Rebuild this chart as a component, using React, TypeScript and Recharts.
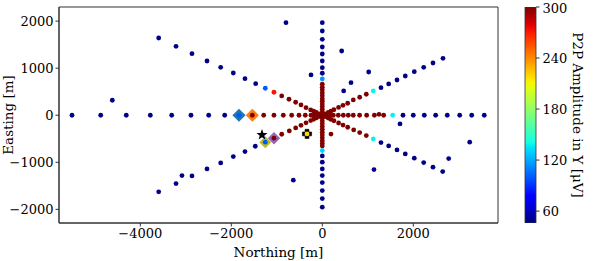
import React from 'react';
import { ScatterChart, Scatter, XAxis, YAxis, ReferenceArea, BarChart, Bar } from 'recharts';

// [northing, easting, P2P amplitude]
type Station = [number, number, number];

const westLine: Station[] = [
  [-5501, 0, 48], [-4870, 0, 48], [-4308, 0, 48], [-3780, 0, 48], [-3310, 0, 48],
  [-2886, 0, 48], [-2497, 0, 48], [-2145, 0, 48], [-1831, 0, 100], [-1538, 0, 300],
  [-1288, 0, 300], [-1062, 0, 300], [-857, 0, 300], [-673, 0, 300], [-512, 0, 300],
  [-374, 0, 300], [-248, 0, 300], [-180, 0, 300], [-120, 0, 300], [-60, 0, 300], [0, 0, 300],
];
const eastLine: Station[] = [
  [60, 0, 300], [120, 0, 300], [180, 0, 300], [242, 0, 300], [352, 0, 300], [462, 0, 300], [571, 0, 300],
  [681, 0, 300], [820, 0, 300], [975, 0, 300], [1145, 0, 300], [1246, 20, 300],
  [1349, 0, 300], [1547, 0, 138], [1774, 0, 48], [2000, 0, 48], [2242, 0, 48],
  [2492, 0, 48], [2747, 0, 48], [3020, 0, 48], [3284, 0, 48], [3560, 0, 48],
];
const northLine: Station[] = [
  [0, 35, 300], [0, 70, 300], [0, 127, 300], [0, 183, 300], [0, 240, 300], [0, 297, 300],
  [0, 352, 300], [0, 416, 300], [0, 473, 300], [0, 537, 300], [0, 594, 300],
  [0, 658, 300], [0, 771, 115], [0, 892, 48], [0, 1011, 48], [0, 1153, 48],
  [0, 1301, 48], [0, 1450, 48], [0, 1614, 48], [0, 1790, 48], [0, 1966, 48],
];
const southLine: Station[] = [
  [0, -30, 300], [0, -60, 300], [0, -120, 300], [0, -180, 300], [0, -240, 300], [0, -300, 300],
  [0, -360, 300], [0, -420, 300], [0, -480, 300], [0, -540, 300], [0, -600, 300],
  [0, -655, 300], [0, -752, 130], [0, -864, 48], [0, -998, 48], [0, -1140, 48],
  [0, -1282, 48], [0, -1431, 48], [0, -1601, 48], [0, -1771, 48], [0, -1953, 48],
];
const northWestLine: Station[] = [
  [-3596, 1641, 48], [-3215, 1465, 48], [-2864, 1308, 48], [-2534, 1153, 48],
  [-2233, 1019, 48], [-1956, 898, 48], [-1699, 777, 48], [-1464, 671, 48],
  [-1253, 573, 100], [-1062, 488, 272], [-892, 410, 300], [-732, 340, 300],
  [-585, 276, 300], [-468, 219, 300], [-358, 161, 300], [-255, 113, 300], [-190, 85, 300],
  [-130, 58, 300], [-65, 29, 300],
];
const southWestLine: Station[] = [
  [-3596, -1628, 48], [-3215, -1452, 48], [-3084, -1282, 48], [-2864, -1289, 48],
  [-2534, -1140, 48], [-2233, -1013, 48], [-1956, -878, 48], [-1699, -772, 48],
  [-1473, -659, 48], [-1253, -573, 100], [-1062, -488, 300], [-892, -404, 300],
  [-725, -333, 300], [-585, -270, 300], [-468, -215, 300], [-358, -161, 300],
  [-255, -113, 300], [-190, -85, 300], [-130, -58, 300], [-65, -29, 300],
];
const northEastLine: Station[] = [
  [65, 30, 300], [130, 60, 300], [190, 88, 300], [255, 117, 300], [358, 165, 300], [455, 210, 300], [558, 255, 300],
  [681, 325, 300], [822, 382, 300], [967, 446, 300], [1121, 516, 138], [1290, 586, 48],
  [1459, 665, 48], [1642, 749, 48], [1824, 834, 48], [2022, 926, 48], [2229, 1019, 48],
  [2433, 1110, 48], [2653, 1210, 48],
];
const southEastLine: Station[] = [
  [65, -30, 300], [130, -60, 300], [190, -88, 300], [255, -117, 300], [358, -165, 300], [455, -210, 300], [558, -255, 300],
  [690, -312, 300], [822, -369, 300], [967, -433, 300], [1121, -503, 138], [1290, -582, 48],
  [1459, -652, 48], [1642, -737, 48], [1824, -822, 48], [2022, -913, 48], [2229, -1006, 48],
  [2433, -1104, 48], [2646, -1197, 48],
];
const scattered: Station[] = [
  [-4615, 318, 48], [-798, 1966, 48], [426, 1365, 48], [-248, 856, 48], [470, 516, 48],
  [631, 692, 48], [1020, 919, 48], [1708, -185, 48], [1136, -1155, 48], [2778, -921, 48],
  [3240, -573, 48], [-637, -1380, 48], [191, -400, 300], [-336, -397, 219],
];

// highlighted sources: [northing, easting]
const blueSource = [[-1831, 0]];
const orangeSource = [[-1538, 0]];
const oliveSource = [[-1253, -573]];
const purpleSource = [[-1062, -488]];
const starSource = [[-1325, -418]];
const plusSource = [[-336, -397]];

const xTicks = [-4000, -2000, 0, 2000];
const yTicks = [-2000, -1000, 0, 1000, 2000];
const cbTicks = [60, 120, 180, 240, 300];
const xDomain: [number, number] = [-5787, 3862];
const yDomain: [number, number] = [-2290, 2300];
const ampRange: [number, number] = [46, 300];

const FONT = '"DejaVu Serif", serif';
const AXIS = '#333';

const JET_R: [number, number][] = [[0, 0], [0.35, 0], [0.66, 1], [0.89, 1], [1, 0.5]];
const JET_G: [number, number][] = [[0, 0], [0.125, 0], [0.375, 1], [0.64, 1], [0.91, 0], [1, 0]];
const JET_B: [number, number][] = [[0, 0.5], [0.11, 1], [0.34, 1], [0.65, 0], [1, 0]];

function seg(pts: [number, number][], t: number): number {
  for (let i = 1; i < pts.length; i++) {
    if (t <= pts[i][0]) {
      const [t0, v0] = pts[i - 1];
      const [t1, v1] = pts[i];
      return v0 + ((t - t0) / (t1 - t0)) * (v1 - v0);
    }
  }
  return pts[pts.length - 1][1];
}
function jetT(t: number): string {
  const c = Math.max(0, Math.min(1, t));
  const r = Math.round(seg(JET_R, c) * 255);
  const g = Math.round(seg(JET_G, c) * 255);
  const b = Math.round(seg(JET_B, c) * 255);
  return `rgb(${r},${g},${b})`;
}
function jet(v: number): string {
  return jetT((v - ampRange[0]) / (ampRange[1] - ampRange[0]));
}

const toPts = (rows: Station[]) => rows.map(([n, e, a]) => ({ n, e, a }));
const stations = toPts([
  ...westLine, ...eastLine, ...northLine, ...southLine,
  ...northWestLine, ...southWestLine, ...northEastLine, ...southEastLine, ...scattered,
]);
const toXY = (rows: number[][]) => rows.map(([n, e]) => ({ n, e }));

const fmt = (v: number) => (v < 0 ? '\u2212' + Math.abs(v) : String(v));

const StationDot = (p: any) => <circle cx={p.cx} cy={p.cy} r={2.4} fill={jet(p.payload.a)} />;
const makeDiamond = (color: string, h: number) => (p: any) => (
  <polygon
    points={`${p.cx},${p.cy - h} ${p.cx + h},${p.cy} ${p.cx},${p.cy + h} ${p.cx - h},${p.cy}`}
    fill={color}
  />
);
const StarShape = (p: any) => {
  const pts: string[] = [];
  for (let i = 0; i < 10; i++) {
    const r = i % 2 === 0 ? 5.8 : 2.4;
    const ang = -Math.PI / 2 + (i * Math.PI) / 5;
    pts.push(`${p.cx + r * Math.cos(ang)},${p.cy + r * Math.sin(ang)}`);
  }
  return <polygon points={pts.join(' ')} fill="#000" />;
};
const PlusShape = (p: any) => {
  const a = 4.6, w = 1.9;
  const { cx, cy } = p;
  const pts = [
    [-w, -a], [w, -a], [w, -w], [a, -w], [a, w], [w, w], [w, a], [-w, a], [-w, w], [-a, w], [-a, -w], [-w, -w],
  ].map(([dx, dy]) => `${cx + dx},${cy + dy}`).join(' ');
  return <polygon points={pts} fill="#000" stroke="#000" strokeWidth={0.6} strokeLinejoin="round" />;
};

const gradStops = Array.from({ length: 41 }, (_, i) => i / 40);
const colorbarData = [{ k: 'cb', span: ampRange }];

export default function App() {
  return (
    <div style={{ position: 'absolute', left: 0, top: 0, width: 597, height: 261, background: '#fff' }}>
      <div style={{ position: 'absolute', left: 0, top: 0 }}>
        <ScatterChart width={597} height={261} margin={{ top: 7, right: 99, bottom: 0, left: 0 }}>
          <XAxis
            type="number"
            dataKey="n"
            domain={xDomain}
            ticks={xTicks}
            allowDataOverflow
            tickFormatter={fmt}
            height={38}
            tickSize={3.5}
            tickMargin={2}
            stroke={AXIS}
            tick={{ fontFamily: FONT, fontSize: 13, fill: '#000' }}
            label={(props: any) => {
              const vb = props.viewBox;
              return (
                <text x={vb.x + vb.width / 2} y={256.5} textAnchor="middle" fontFamily={FONT} fontSize={13.5} fill="#000">
                  Northing [m]
                </text>
              );
            }}
          />
          <YAxis
            type="number"
            dataKey="e"
            domain={yDomain}
            ticks={yTicks}
            allowDataOverflow
            tickFormatter={fmt}
            width={59}
            tickSize={3.5}
            tickMargin={2}
            stroke={AXIS}
            tick={{ fontFamily: FONT, fontSize: 13, fill: '#000' }}
            label={(props: any) => {
              const vb = props.viewBox;
              const cy = vb.y + vb.height / 2;
              return (
                <text x={13.3} y={cy} transform={`rotate(-90, 13.3, ${cy})`} textAnchor="middle" fontFamily={FONT} fontSize={13.5} fill="#000">
                  Easting [m]
                </text>
              );
            }}
          />
          <ReferenceArea x1={xDomain[0]} x2={xDomain[1]} y1={yDomain[0]} y2={yDomain[1]} fill="none" stroke={AXIS} strokeWidth={1} />
          <Scatter data={toXY(blueSource)} shape={makeDiamond('#1f77b4', 6.6)} isAnimationActive={false} />
          <Scatter data={toXY(orangeSource)} shape={makeDiamond('#ff7f0e', 6.6)} isAnimationActive={false} />
          <Scatter data={toXY(oliveSource)} shape={makeDiamond('#bcbd22', 6.0)} isAnimationActive={false} />
          <Scatter data={toXY(purpleSource)} shape={makeDiamond('#9467bd', 6.2)} isAnimationActive={false} />
          <Scatter data={toXY(starSource)} shape={StarShape} isAnimationActive={false} />
          <Scatter data={toXY(plusSource)} shape={PlusShape} isAnimationActive={false} />
          <Scatter data={stations} shape={StationDot} isAnimationActive={false} />
        </ScatterChart>
      </div>
      <div style={{ position: 'absolute', left: 510, top: 0 }}>
        <BarChart width={87} height={261} data={colorbarData} margin={{ top: 7, right: 0, bottom: 38, left: 15 }} barCategoryGap={0}>
          <defs>
            <linearGradient id="jetGrad" x1="0" y1="1" x2="0" y2="0">
              {gradStops.map((t) => (
                <stop key={t} offset={`${t * 100}%`} stopColor={jetT(t)} />
              ))}
            </linearGradient>
          </defs>
          <XAxis dataKey="k" hide />
          <YAxis
            orientation="right"
            type="number"
            domain={ampRange}
            ticks={cbTicks}
            allowDataOverflow
            width={61}
            axisLine={false}
            tickSize={3.5}
            tickMargin={3}
            stroke={AXIS}
            tick={{ fontFamily: FONT, fontSize: 13, fill: '#000' }}
            label={(props: any) => {
              const vb = props.viewBox;
              const cy = vb.y + vb.height / 2;
              return (
                <text x={572.7 - 510} y={cy} transform={`rotate(90, ${572.7 - 510}, ${cy})`} textAnchor="middle" fontFamily={FONT} fontSize={13.5} fill="#000">
                  P2P Amplitude in Y [μV]
                </text>
              );
            }}
          />
          <Bar dataKey="span" fill="url(#jetGrad)" stroke={AXIS} strokeWidth={0.8} isAnimationActive={false} />
        </BarChart>
      </div>
    </div>
  );
}
